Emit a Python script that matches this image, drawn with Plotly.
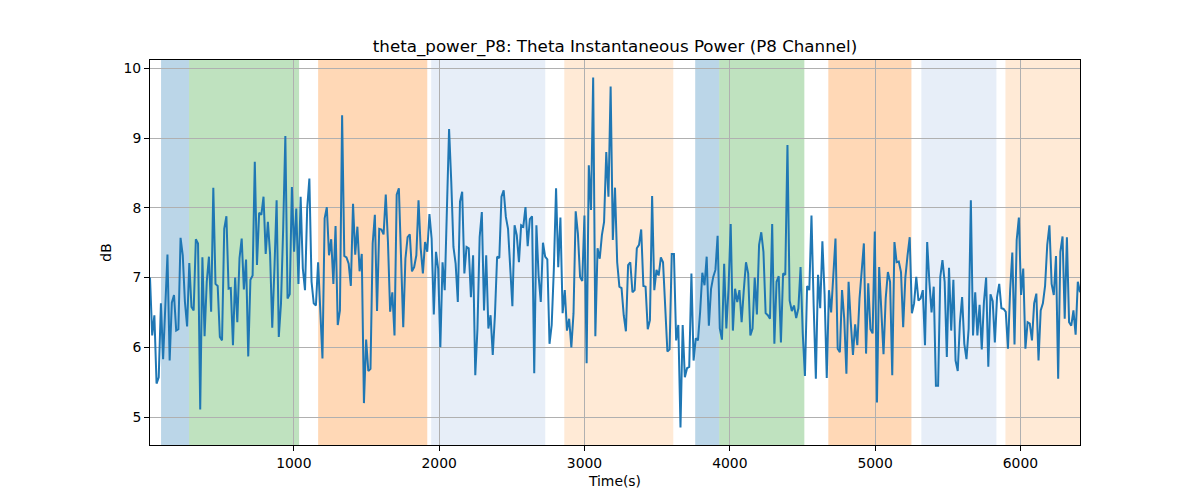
import numpy as np
import plotly.graph_objects as go

# ---- data ----
values = [
    7.0, 6.17, 6.46, 5.48, 5.57, 6.63, 5.83, 6.6, 7.33, 5.81,
    6.64, 6.75, 6.24, 6.26, 7.57, 7.32, 6.65, 6.3, 7.21, 6.58,
    6.53, 7.55, 7.49, 5.11, 7.29, 6.16, 6.94, 7.30, 6.51, 8.29,
    6.91, 6.88, 6.15, 6.10, 7.70, 7.88, 6.84, 6.85, 6.03, 7.0,
    6.36, 7.28, 7.56, 6.83, 7.26, 5.87, 6.97, 7.03, 8.66, 7.18,
    7.93, 7.90, 8.16, 7.34, 7.80, 7.34, 6.28, 7.13, 8.11, 6.15,
    6.63, 7.70, 9.03, 6.70, 6.76, 8.30, 7.37, 7.99, 6.91, 8.16,
    7.13, 6.82, 7.99, 8.42,
    6.94, 6.63, 6.60, 7.22, 6.5, 5.84, 7.85, 8.01, 7.32, 7.55,
    6.91, 7.74, 6.32, 6.53, 9.33, 7.31, 7.29, 7.20, 6.88, 8.06,
    7.33, 7.73, 7.09, 7.34, 5.20, 6.11, 5.66, 5.69, 7.49, 7.90,
    6.52, 7.70, 7.69, 7.62, 8.19, 7.51, 6.51, 6.79, 6.17, 8.19,
    8.28, 7.22, 6.29, 7.27, 7.58, 7.62, 7.09, 7.15, 7.32, 8.11,
    7.42, 7.06, 7.51, 7.37, 7.91, 7.56, 6.47, 7.37, 7.13, 6.00,
    7.22, 6.82, 7.85, 9.13, 8.37, 7.44, 7.20,
    6.65, 8.09, 8.23, 7.06, 7.44, 7.42, 6.72, 7.32, 5.60, 6.27,
    7.58, 7.94, 6.53, 7.32, 6.27, 6.46, 5.89, 6.46, 7.30, 7.28,
    8.16, 8.25, 7.87, 7.70, 7.22, 6.59, 7.75, 7.61, 7.22, 7.75,
    7.73, 8.01, 7.45, 7.84, 7.88, 5.63, 7.75, 7.03, 6.65, 7.50,
    7.30, 7.26, 6.05, 6.32, 7.13, 8.28, 7.15, 7.86, 6.49, 6.82,
    6.24, 6.41, 6.00, 6.49, 7.95, 7.63, 7.01, 6.95, 7.89, 5.77,
    8.61, 7.97, 9.87, 6.16, 7.42, 7.27, 7.61, 7.80, 8.80, 8.16,
    9.74, 7.54, 8.29, 7.22, 6.87, 6.85, 6.46, 6.23, 7.18, 7.22,
    6.79, 6.82, 7.42, 7.47, 7.69, 6.88, 6.87, 6.26, 6.39, 8.17,
    6.82, 7.11, 7.03, 7.29, 7.22, 6.65, 5.94, 5.97, 7.34, 7.34,
    6.10, 6.32, 4.85, 6.32, 5.57, 5.70, 5.72, 7.06, 5.81, 6.13,
    6.10, 6.51, 7.07, 6.89, 7.30, 6.31, 6.84, 7.01, 7.11, 7.60,
    6.27, 6.11, 7.20, 6.27, 6.84, 7.77, 6.24, 6.84, 6.65, 6.82,
    6.36, 6.82, 7.22, 7.06, 6.17, 6.27, 7.0, 6.47, 7.47, 7.65,
    7.37, 6.49, 6.46, 6.41, 7.77, 6.05,
    6.94, 7.02, 6.07, 7.06, 7.04, 8.90, 6.67, 6.52, 6.60, 6.42,
    6.56, 7.15, 6.20, 5.59, 6.88, 6.82, 7.89, 6.6, 5.55, 7.04,
    6.56, 7.52, 6.76, 5.56, 6.82, 6.50, 7.11, 7.56, 5.98, 5.93,
    6.82, 6.41, 5.62, 6.94, 6.36, 5.89, 6.33, 6.03, 6.70, 7.13,
    7.49, 5.91, 6.92, 6.26, 6.20, 7.66, 5.21, 7.15, 6.46, 5.90,
    6.70, 7.08, 6.94, 5.60, 7.51, 7.22, 7.23, 7.08, 6.29, 7.0,
    7.32, 7.58, 6.49, 6.63, 7.01, 6.67, 6.70, 6.82, 6.03, 7.51,
    6.94, 6.50, 6.87, 5.45, 5.45, 7.01, 7.25, 6.94, 5.86, 7.14,
    6.24, 6.97, 5.81, 5.66, 6.36, 6.72, 6.05, 5.83, 6.27, 8.11,
    6.17, 6.79, 6.17, 6.61, 5.97, 6.65, 7.0, 5.72, 6.76, 6.66,
    6.07, 6.72, 6.91, 6.56, 6.55, 6.51, 5.98, 6.82, 7.36, 6.04,
    7.54, 7.86, 6.75, 7.13, 5.98, 6.36, 6.34, 6.10, 6.63, 6.77,
    5.81, 6.53, 6.63, 6.88, 7.47, 7.75, 6.91, 6.75, 7.31, 5.55,
    7.37, 7.59, 6.41, 7.58, 6.36, 6.31, 6.53, 6.18, 6.94, 6.79,
]
t_start = 10.0
t_end = 6410.0
times = np.linspace(t_start, t_end, len(values))

span_starts = [86, 279, 1167, 1945, 2861, 3762, 3927, 4678, 5318, 5897]
span_ends = [279, 1036, 1918, 2730, 3611, 3927, 4513, 5250, 5835, 6500]
span_colors = ["#1f77b4", "#2ca02c", "#ff7f0e", "#aec7e8", "#ffbb78",
               "#1f77b4", "#2ca02c", "#ff7f0e", "#aec7e8", "#ffbb78"]

x_ticks = [1000, 2000, 3000, 4000, 5000, 6000]
y_ticks = [5, 6, 7, 8, 9, 10]

title = "theta_power_P8: Theta Instantaneous Power (P8 Channel)"


def hex_rgba(h, a):
    h = h.lstrip("#")
    return "rgba(%d,%d,%d,%.2f)" % (int(h[0:2], 16), int(h[2:4], 16), int(h[4:6], 16), a)


fig = go.Figure()
fig.add_trace(go.Scatter(x=times, y=values, mode="lines",
                         line=dict(color="#1f77b4", width=2), showlegend=False))

shapes = []
for s, e, c in zip(span_starts, span_ends, span_colors):
    shapes.append(dict(type="rect", xref="x", yref="paper", x0=s, x1=e, y0=0, y1=1,
                       fillcolor=hex_rgba(c, 0.3), line=dict(width=0), layer="below"))

vmin, vmax = min(values), max(values)
pad = (vmax - vmin) * 0.05

font = "DejaVu Sans"
fig.update_layout(
    width=1200, height=500,
    margin=dict(l=150, r=120, t=60, b=55),
    paper_bgcolor="white", plot_bgcolor="white",
    shapes=shapes,
    font=dict(family=font, size=14, color="black"),
    title=dict(text=title, x=0.5, xref="paper", xanchor="center",
               y=1 - 52 / 500, yref="container", yanchor="bottom",
               font=dict(family=font, size=16.7, color="black")),
    xaxis=dict(range=[t_start, t_end], tickvals=x_ticks, ticktext=[str(v) for v in x_ticks],
               showgrid=True, gridcolor="#b0b0b0", gridwidth=1,
               showline=True, linecolor="black", linewidth=1, mirror=True,
               ticks="outside", ticklen=5, tickcolor="black", zeroline=False,
               title=dict(text="Time(s)", font=dict(size=13.9), standoff=6),
               tickfont=dict(size=13.9)),
    yaxis=dict(range=[vmin - pad, vmax + pad], tickvals=y_ticks, ticktext=[str(v) for v in y_ticks],
               showgrid=True, gridcolor="#b0b0b0", gridwidth=1,
               showline=True, linecolor="black", linewidth=1, mirror=True,
               ticks="outside", ticklen=5, tickcolor="black", zeroline=False,
               title=dict(text="dB", font=dict(size=13.9), standoff=8),
               tickfont=dict(size=13.9)),
)

fig.write_html("out.html")
